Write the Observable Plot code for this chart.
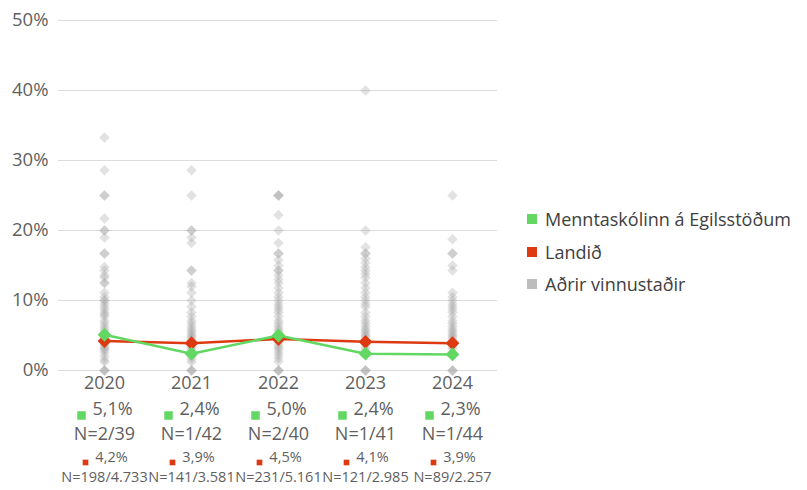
<!DOCTYPE html>
<html>
<head>
<meta charset="utf-8">
<script src="https://cdn.jsdelivr.net/npm/d3@7"></script>
<script src="https://cdn.jsdelivr.net/npm/@observablehq/plot@0.6"></script>
<style>
  html, body { margin: 0; padding: 0; background: #fff; }
  #wrap { position: relative; width: 807px; height: 490px; font-family: "Open Sans", sans-serif; }
  #legend { position: absolute; left: 527px; top: 203px; color: #404040; font-size: 18px; }
  #legend .item { display: flex; align-items: center; height: 32.5px; }
  #legend .sw { width: 10px; height: 10px; margin-right: 8px; }
</style>
</head>
<body>
<div id="wrap"><div id="chart"></div><div id="legend"></div></div>
<script>
const years = [2020, 2021, 2022, 2023, 2024];
const schoolPct = [5.1, 2.4, 5.0, 2.4, 2.3];
const schoolN = ["N=2/39", "N=1/42", "N=2/40", "N=1/41", "N=1/44"];
const landPct = [4.2, 3.9, 4.5, 4.1, 3.9];
const landN = ["N=198/4.733", "N=141/3.581", "N=231/5.161", "N=121/2.985", "N=89/2.257"];
const others2020 = [33.3, 28.6, 25, 25, 21.7, 20, 20, 19, 16.7, 16.7, 14.8, 14.3, 13.6, 13.3, 12.5, 12.5, 11.1, 10.5, 10, 10, 9.5, 9.1, 8.7, 8.3, 8, 7.7, 7.1, 6.7, 6.3, 5.9, 5.6, 5.3, 5, 4.8, 4.5, 4.3, 4, 3.8, 3.6, 3.3, 3.1, 2.9, 2.5, 2, 1.5, 1.2, 0, 0, 0];
const others2021 = [28.6, 25, 20, 20, 19, 18.2, 14.3, 14.3, 12.5, 12, 11.1, 10, 9.1, 8.3, 7.7, 7.1, 6.7, 6.3, 5.9, 5.6, 5.3, 5, 4.8, 4.5, 4.3, 4, 3.7, 3.4, 3.2, 2.9, 2.6, 2.3, 2, 1.6, 1.2, 0, 0, 0];
const others2022 = [25, 25, 25, 22.2, 20, 18.2, 16.7, 16.7, 15.8, 15, 14.3, 14.3, 13.6, 13, 12.5, 11.8, 11.1, 10.5, 10, 9.5, 9.1, 8.7, 8.3, 7.7, 7.1, 6.7, 6.3, 5.9, 5.6, 5.3, 5, 4.5, 4.2, 4, 3.6, 3.3, 3, 2.6, 2.2, 1.8, 1.3, 0, 0, 0];
const others2023 = [40, 20, 17.6, 16.7, 16.7, 16, 15.4, 14.8, 14.3, 13.8, 13.3, 12.5, 11.8, 11.1, 10.5, 10, 9.5, 9.1, 8.3, 7.7, 7.1, 6.7, 6.3, 5.9, 5.6, 5.3, 5, 4.8, 4.3, 3.8, 3.3, 2.9, 0, 0, 0];
const others2024 = [25, 18.75, 16.7, 16.7, 15, 14.3, 11.1, 10.5, 10, 9.5, 9.1, 8.7, 8.3, 7.7, 7.1, 6.7, 6.3, 5.9, 5.6, 5.3, 5, 4.8, 4.5, 4.2, 3.8, 3.4, 3.1, 2.6, 0, 0, 0];
const legendLabels = ["Menntaskólinn á Egilsstöðum", "Landið", "Aðrir vinnustaðir"];

const green = "#62d862", red = "#dd3a12", grayC = "#a6a6a6", textC = "#5f5f5f";
const othersByYear = [others2020, others2021, others2022, others2023, others2024];
const others = othersByYear.flatMap((arr, i) => arr.map(v => ({year: years[i], v})));
const rows = years.map((y, i) => ({year: y, school: schoolPct[i], schoolN: schoolN[i], land: landPct[i], landN: landN[i]}));
const fmt = v => v.toFixed(1).replace(".", ",") + "%";

const chart = Plot.plot({
  width: 807, height: 490,
  marginLeft: 58, marginRight: 310, marginTop: 20, marginBottom: 120,
  style: {fontFamily: "'Open Sans', sans-serif", fontSize: "18px", color: textC, background: "white", overflow: "visible"},
  x: {type: "point", domain: years, padding: 0.5, axis: null},
  y: {domain: [0, 50], axis: null},
  marks: [
    Plot.gridY([0, 10, 20, 30, 40, 50], {stroke: "#dcdcdc", strokeOpacity: 1, strokeWidth: 1}),
    Plot.axisY([0, 10, 20, 30, 40, 50], {tickSize: 0, tickPadding: 10, tickFormat: d => d + "%", fontSize: 18.5, fill: textC}),
    Plot.dot(others, {x: "year", y: "v", symbol: "square", rotate: 45, r: 4.2, fill: grayC, fillOpacity: 0.33}),
    Plot.line(rows, {x: "year", y: "land", stroke: red, strokeWidth: 2.5}),
    Plot.line(rows, {x: "year", y: "school", stroke: green, strokeWidth: 2.5}),
    Plot.dot(rows, {x: "year", y: "land", symbol: "square", rotate: 45, r: 5.5, fill: red}),
    Plot.dot(rows, {x: "year", y: "school", symbol: "square", rotate: 45, r: 5.5, fill: green}),
    Plot.text(rows, {x: "year", text: d => String(d.year), frameAnchor: "bottom", dy: 18, fontSize: 18, fill: textC}),
    Plot.dot(rows, {x: "year", frameAnchor: "bottom", dy: 45, dx: -23, symbol: "square", r: 4.8, fill: green}),
    Plot.text(rows, {x: "year", text: d => fmt(d.school), frameAnchor: "bottom", dy: 44, dx: 8, fontSize: 18, fill: textC}),
    Plot.text(rows, {x: "year", text: "schoolN", frameAnchor: "bottom", dy: 69, fontSize: 18, fill: textC}),
    Plot.dot(rows, {x: "year", frameAnchor: "bottom", dy: 92, dx: -19, symbol: "square", r: 3.2, fill: red}),
    Plot.text(rows, {x: "year", text: d => fmt(d.land), frameAnchor: "bottom", dy: 91, dx: 7, fontSize: 14.5, fill: textC}),
    Plot.text(rows, {x: "year", text: "landN", frameAnchor: "bottom", dy: 111, fontSize: 14.5, fill: textC})
  ]
});
document.getElementById("chart").appendChild(chart);

const legendColors = [green, red, "#bdbdbd"];
const lg = document.getElementById("legend");
legendLabels.forEach((t, i) => {
  const it = document.createElement("div");
  it.className = "item";
  const sw = document.createElement("span");
  sw.className = "sw";
  sw.style.background = legendColors[i];
  const tx = document.createElement("span");
  tx.textContent = t;
  it.appendChild(sw); it.appendChild(tx);
  lg.appendChild(it);
});
</script>
</body>
</html>
